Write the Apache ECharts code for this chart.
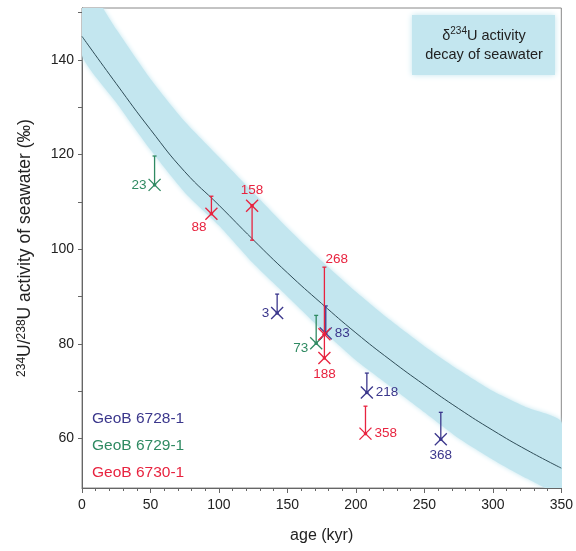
<!DOCTYPE html>
<html>
<head>
<meta charset="utf-8">
<title>234U/238U activity of seawater</title>
<script src="https://cdn.jsdelivr.net/npm/echarts@6/dist/echarts.min.js"></script>
<style>
  html, body { margin: 0; padding: 0; background: #fff; }
  #main { width: 576px; height: 551px; }
</style>
</head>
<body>
<div id="main"></div>
<script>
// seawater decay curve and its band
const curveAges = [0, 25, 50, 75, 100, 125, 150, 175, 200, 225, 250, 275, 300, 325, 350];
const curveValues = [145, 135, 125.3, 116.4, 109.3, 102, 95, 88.5, 82.3, 76.6, 71.3, 66.3, 61.7, 57.5, 53.7];
const bandUpper = [157, 146.5, 136, 127, 119.5, 112, 104.5, 97.5, 91, 85, 79.5, 74.5, 70, 66.5, 63.5];
const bandLower = [141, 131, 121, 112, 105, 97, 90, 83, 76.5, 71, 65.5, 60, 55.5, 51.5, 48.5];

// GeoB 6728-1
const blueNames = ['3', '83', '218', '368'];
const blueAges = [142.5, 178, 208, 262];
const blueValues = [86.5, 82.2, 69.7, 59.8];
const blueErrEnd = [90.5, 88, 73.8, 65.5];

// GeoB 6729-1
const greenNames = ['23', '73'];
const greenAges = [53, 171];
const greenValues = [113.6, 80.1];
const greenErrEnd = [119.7, 86];

// GeoB 6730-1
const redNames = ['88', '158', '268', '188', '358'];
const redAges = [94.5, 124.2, 177, 177, 207];
const redValues = [107.5, 109.2, 82, 77, 61];
const redErrEnd = [111.2, 101.9, 96.2, 82, 66.8];

const seriesNames = ['GeoB 6728-1', 'GeoB 6729-1', 'GeoB 6730-1'];
const xTicks = [0, 50, 100, 150, 200, 250, 300, 350];
const yTicks = [60, 70, 80, 90, 100, 110, 120, 130, 140, 150];
const yLabels = [60, 80, 100, 120, 140];

const FONT = 'Liberation Sans';
const colors = ['#3b378c', '#2f8a62', '#e8233f'];
const bandColor = '#c3e6ef';

// where each sample label sits relative to its marker
const labelPlace = {
    '3': 'left', '83': 'right', '218': 'right', '368': 'bottom',
    '23': 'left', '73': 'lowLeft',
    '88': 'bottomLeft', '158': 'top', '268': 'errTop', '188': 'bottom', '358': 'right'
};

function zip(ages, values, errs) {
    return ages.map(function (a, i) { return [a, values[i], errs[i]]; });
}

function renderSample(color, names) {
    return function (params, api) {
        const name = names[params.dataIndex];
        const p = api.coord([api.value(0), api.value(1)]);
        const e = api.coord([api.value(0), api.value(2)]);
        const s = 6;
        const ls = { stroke: color, lineWidth: 1.3 };
        let tx = p[0], ty = p[1], align = 'center', va = 'middle';
        switch (labelPlace[name]) {
            case 'left': tx = p[0] - 8; align = 'right'; break;
            case 'right': tx = p[0] + 9; align = 'left'; break;
            case 'bottom': ty = p[1] + 9; va = 'top'; break;
            case 'top': ty = p[1] - 8; va = 'bottom'; break;
            case 'lowLeft': tx = p[0] - 8; ty = p[1] + 5; align = 'right'; break;
            case 'bottomLeft': tx = p[0] - 5; ty = p[1] + 7; align = 'right'; va = 'top'; break;
            case 'errTop': tx = e[0] + 1; ty = e[1] - 1; align = 'left'; va = 'bottom'; break;
        }
        return {
            type: 'group',
            children: [
                { type: 'line', shape: { x1: p[0], y1: p[1], x2: e[0], y2: e[1] }, style: ls },
                { type: 'line', shape: { x1: e[0] - 2, y1: e[1], x2: e[0] + 2, y2: e[1] }, style: ls },
                { type: 'line', shape: { x1: p[0] - s, y1: p[1] - s, x2: p[0] + s, y2: p[1] + s }, style: ls },
                { type: 'line', shape: { x1: p[0] - s, y1: p[1] + s, x2: p[0] + s, y2: p[1] - s }, style: ls },
                { type: 'circle', shape: { cx: p[0], cy: p[1], r: 1.8 }, style: { fill: color } },
                {
                    type: 'text', x: tx, y: ty,
                    style: {
                        text: name, fill: color, fontSize: 13.5, fontFamily: FONT,
                        align: align, verticalAlign: va
                    }
                }
            ]
        };
    };
}

const chart = echarts.init(document.getElementById('main'), null, { renderer: 'canvas' });

const option = {
    backgroundColor: '#ffffff',
    animation: false,
    textStyle: { fontFamily: FONT },
    grid: {
        left: 82, right: 13, top: 8, bottom: 63,
        show: true, borderColor: '#888', borderWidth: 1
    },
    legend: {
        orient: 'vertical',
        left: 87, top: 411,
        padding: 0,
        itemWidth: 0, itemHeight: 14, itemGap: 11,
        icon: 'none',
        selectedMode: false,
        textStyle: { fontSize: 15.5, fontFamily: FONT },
        data: seriesNames.map(function (n, i) {
            return { name: n, icon: 'none', textStyle: { color: colors[i] } };
        })
    },
    xAxis: {
        type: 'value',
        min: 0, max: 350, interval: 50,
        name: 'age (kyr)',
        nameLocation: 'middle',
        nameGap: 40,
        nameTextStyle: { fontSize: 16, color: '#222' },
        axisLine: { lineStyle: { color: '#666' } },
        axisTick: { length: 5, lineStyle: { color: '#666' } },
        minorTick: { show: true, splitNumber: 5, length: 3, lineStyle: { color: '#666' } },
        axisLabel: { fontSize: 14, color: '#222', margin: 10, customValues: xTicks },
        splitLine: { show: false }
    },
    yAxis: {
        type: 'value',
        min: 49.5, max: 151,
        name: '{sup|234}U/{sup|238}U activity of seawater (‰)',
        nameLocation: 'middle',
        nameGap: 47,
        nameTextStyle: {
            fontSize: 17.5, color: '#222',
            rich: { sup: { fontSize: 12, color: '#222', verticalAlign: 'top', padding: [0, 0, 7, 0] } }
        },
        axisLine: { show: true, lineStyle: { color: '#666' } },
        axisTick: { show: true, length: 4, customValues: yTicks, lineStyle: { color: '#666' } },
        axisLabel: { fontSize: 14, color: '#222', margin: 8, customValues: yLabels },
        splitLine: { show: false }
    },
    graphic: [{
        type: 'group',
        left: 412, top: 15,
        children: [
            {
                type: 'rect',
                shape: { x: 0, y: 0, width: 143, height: 60 },
                style: { fill: bandColor, shadowBlur: 6, shadowColor: bandColor }
            },
            {
                type: 'text',
                x: 72, y: 30,
                style: {
                    text: '{n|δ}{sup|234}{n|U activity}\n{n|decay of seawater}',
                    align: 'center', verticalAlign: 'middle',
                    fill: '#222',
                    rich: {
                        n: { fontSize: 14.5, fontFamily: FONT, fill: '#222', lineHeight: 19 },
                        sup: { fontSize: 10, fontFamily: FONT, fill: '#222', verticalAlign: 'top', padding: [0, 0, 6, 0] }
                    }
                }
            }
        ]
    }],
    series: [
        {
            // uncertainty band, drawn as one polygon
            type: 'custom',
            name: 'band',
            clip: true,
            silent: true,
            z: 1,
            data: [[0, curveValues[0]]],
            renderItem: function (params, api) {
                const pts = [];
                for (let i = 0; i < curveAges.length; i++) pts.push(api.coord([curveAges[i], bandUpper[i]]));
                for (let i = curveAges.length - 1; i >= 0; i--) pts.push(api.coord([curveAges[i], bandLower[i]]));
                return {
                    type: 'polygon',
                    shape: { points: pts, smooth: 0.2 },
                    style: { fill: bandColor, shadowBlur: 5, shadowColor: bandColor }
                };
            }
        },
        {
            type: 'line',
            name: 'curve',
            z: 2,
            smooth: true,
            symbol: 'none',
            lineStyle: { color: '#2f4d58', width: 1 },
            data: curveAges.map(function (a, i) { return [a, curveValues[i]]; })
        },
        {
            type: 'custom', name: seriesNames[0], z: 5,
            itemStyle: { color: colors[0] },
            renderItem: renderSample(colors[0], blueNames),
            data: zip(blueAges, blueValues, blueErrEnd)
        },
        {
            type: 'custom', name: seriesNames[1], z: 4,
            itemStyle: { color: colors[1] },
            renderItem: renderSample(colors[1], greenNames),
            data: zip(greenAges, greenValues, greenErrEnd)
        },
        {
            type: 'custom', name: seriesNames[2], z: 5,
            itemStyle: { color: colors[2] },
            renderItem: renderSample(colors[2], redNames),
            data: zip(redAges, redValues, redErrEnd)
        }
    ]
};

chart.setOption(option);
</script>
</body>
</html>
